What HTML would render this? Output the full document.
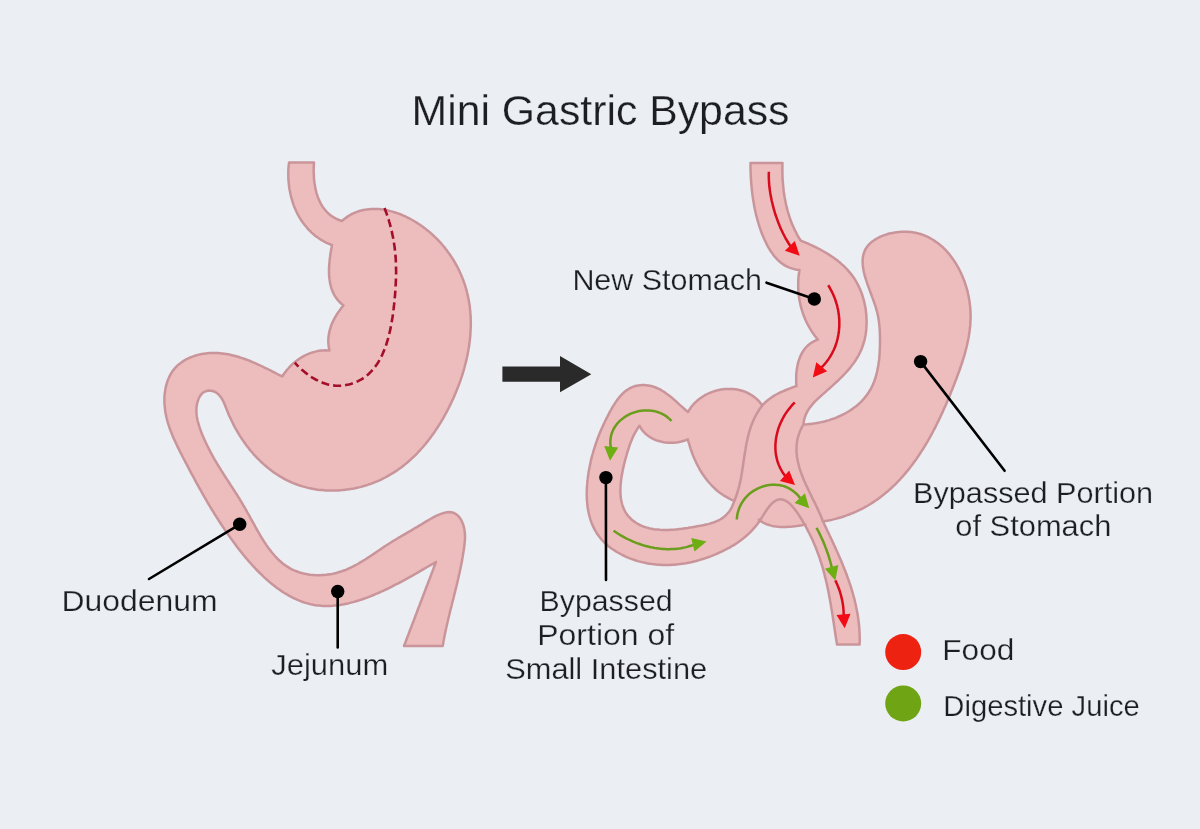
<!DOCTYPE html>
<html><head><meta charset="utf-8"><title>Mini Gastric Bypass</title>
<style>html,body{margin:0;padding:0;background:#EBEEF3;} svg{display:block;will-change:transform;}</style>
</head><body>
<svg width="1200" height="829" viewBox="0 0 1200 829">
<rect width="1200" height="829" fill="#EBEEF3"/>
<path d="M289,162.5 L314,162.5 L313.9,164.4 L313.8,166.4 L313.7,168.4 L313.7,170.4 L313.7,172.4 L313.8,174.4 L313.9,176.4 L314,178.5 L314.2,180.5 L314.4,182.6 L314.7,184.6 L315.1,186.6 L315.4,188.6 L315.9,190.6 L316.4,192.5 L317,194.5 L317.6,196.4 L318.3,198.2 L319.1,200.1 L319.9,201.9 L320.8,203.6 L321.8,205.3 L322.8,206.9 L324,208.5 L325.2,210 L326.5,211.5 L327.8,212.9 L329.3,214.2 L330.8,215.4 L332.5,216.6 L334.2,217.6 L336,218.6 L337.9,219.5 L339.9,220.3 L342,221 L343.6,219.6 L345.3,218.3 L346.9,217.1 L348.7,215.9 L350.4,214.9 L352.1,213.9 L353.9,213.1 L355.7,212.3 L357.6,211.6 L359.4,211 L361.3,210.5 L363.2,210 L365.1,209.7 L367,209.4 L368.9,209.2 L370.8,209 L372.8,208.9 L374.7,208.9 L376.7,209 L378.6,209.1 L380.6,209.3 L382.6,209.5 L384.5,209.8 L386.5,210.2 L388.5,210.6 L390.4,211.1 L392.4,211.6 L394.3,212.2 L396.3,212.8 L398.2,213.5 L400.1,214.2 L402,215 L403.9,215.8 L405.8,216.7 L407.6,217.6 L409.5,218.5 L411.3,219.5 L413.1,220.5 L414.8,221.5 L416.6,222.6 L418.3,223.7 L420,224.8 L421.7,226 L423.4,227.2 L425,228.4 L426.6,229.7 L428.2,230.9 L429.8,232.3 L431.3,233.6 L432.8,235 L434.3,236.4 L435.8,237.8 L437.2,239.2 L438.6,240.7 L440,242.2 L441.4,243.7 L442.7,245.3 L444,246.8 L445.3,248.4 L446.5,250 L447.7,251.6 L448.9,253.3 L450.1,254.9 L451.2,256.6 L452.3,258.3 L453.4,260 L454.4,261.7 L455.4,263.5 L456.4,265.2 L457.4,267 L458.3,268.8 L459.2,270.6 L460,272.4 L460.8,274.2 L461.6,276 L462.3,277.8 L463.1,279.7 L463.7,281.5 L464.4,283.4 L465,285.2 L465.6,287.1 L466.1,289 L466.7,290.8 L467.1,292.7 L467.6,294.6 L468,296.5 L468.4,298.4 L468.8,300.4 L469.1,302.3 L469.4,304.2 L469.7,306.1 L469.9,308.1 L470.1,310 L470.3,311.9 L470.4,313.9 L470.6,315.8 L470.7,317.8 L470.7,319.7 L470.8,321.7 L470.8,323.7 L470.8,325.6 L470.7,327.6 L470.6,329.6 L470.5,331.5 L470.4,333.5 L470.3,335.5 L470.1,337.4 L469.9,339.4 L469.7,341.4 L469.4,343.4 L469.2,345.3 L468.9,347.3 L468.5,349.3 L468.2,351.3 L467.8,353.2 L467.4,355.2 L467,357.2 L466.6,359.1 L466.1,361.1 L465.6,363.1 L465.1,365 L464.6,367 L464.1,368.9 L463.5,370.9 L462.9,372.8 L462.3,374.8 L461.7,376.7 L461,378.6 L460.4,380.6 L459.7,382.5 L459,384.4 L458.3,386.3 L457.5,388.2 L456.8,390.1 L456,392 L455.2,393.9 L454.4,395.8 L453.6,397.7 L452.7,399.6 L451.9,401.4 L451,403.3 L450.1,405.1 L449.2,407 L448.3,408.8 L447.3,410.6 L446.4,412.4 L445.4,414.2 L444.4,416 L443.4,417.8 L442.4,419.6 L441.3,421.3 L440.3,423.1 L439.2,424.8 L438.1,426.5 L437,428.2 L435.9,429.9 L434.8,431.6 L433.6,433.3 L432.4,434.9 L431.2,436.5 L430,438.2 L428.8,439.8 L427.6,441.4 L426.3,442.9 L425.1,444.5 L423.8,446 L422.5,447.5 L421.1,449 L419.8,450.5 L418.4,451.9 L417.1,453.4 L415.7,454.8 L414.3,456.2 L412.8,457.5 L411.4,458.9 L409.9,460.2 L408.5,461.5 L407,462.8 L405.4,464.1 L403.9,465.3 L402.4,466.5 L400.8,467.7 L399.2,468.8 L397.6,470 L396,471.1 L394.3,472.1 L392.7,473.2 L391,474.2 L389.3,475.2 L387.6,476.2 L385.9,477.1 L384.1,478 L382.4,478.9 L380.6,479.8 L378.8,480.6 L377,481.4 L375.1,482.1 L373.3,482.9 L371.4,483.6 L369.5,484.2 L367.6,484.9 L365.7,485.5 L363.8,486 L361.9,486.6 L359.9,487.1 L358,487.5 L356,488 L354,488.4 L352,488.7 L350.1,489.1 L348.1,489.4 L346.1,489.6 L344.1,489.9 L342.1,490.1 L340,490.2 L338,490.4 L336,490.5 L334,490.5 L332,490.5 L330,490.5 L328,490.5 L326,490.4 L324,490.3 L322,490.1 L320,489.9 L318,489.7 L316,489.4 L314.1,489.1 L312.1,488.7 L310.2,488.3 L308.2,487.9 L306.3,487.4 L304.4,486.9 L302.5,486.4 L300.6,485.8 L298.7,485.2 L296.9,484.5 L295,483.8 L293.2,483.1 L291.4,482.3 L289.6,481.5 L287.8,480.7 L286.1,479.8 L284.3,478.9 L282.6,477.9 L280.9,476.9 L279.2,475.9 L277.5,474.8 L275.9,473.7 L274.2,472.6 L272.6,471.5 L271,470.3 L269.4,469.1 L267.9,467.8 L266.3,466.5 L264.8,465.2 L263.3,463.9 L261.8,462.5 L260.3,461.1 L258.9,459.7 L257.5,458.3 L256.1,456.8 L254.7,455.3 L253.3,453.8 L252,452.3 L250.6,450.7 L249.3,449.1 L248.1,447.5 L246.8,445.9 L245.6,444.2 L244.4,442.5 L243.2,440.8 L242,439.1 L240.9,437.4 L239.7,435.6 L238.7,433.8 L237.6,432 L236.5,430.2 L235.5,428.4 L234.5,426.6 L233.5,424.7 L232.6,422.8 L231.7,420.9 L230.8,419 L229.9,417.1 L229,415.2 L228.2,413.2 L227.4,411.3 L226.6,409.3 L225.9,407.4 L225.1,405.5 L224.3,403.6 L223.5,401.8 L222.6,400 L221.6,398.4 L220.6,396.9 L219.5,395.5 L218.3,394.2 L217,393.1 L215.6,392.2 L214,391.5 L212.5,391 L210.8,390.7 L209.2,390.6 L207.5,390.8 L206,391.2 L204.4,391.8 L203,392.7 L201.7,393.9 L200.5,395.4 L199.5,397 L198.6,398.8 L197.9,400.8 L197.3,402.7 L196.9,404.7 L196.6,406.7 L196.4,408.7 L196.4,410.8 L196.5,412.8 L196.6,414.9 L196.9,416.9 L197.3,419 L197.7,421.1 L198.3,423.1 L198.9,425.2 L199.5,427.2 L200.2,429.2 L201,431.3 L201.7,433.3 L202.5,435.2 L203.4,437.2 L204.2,439.1 L205.1,441 L205.9,442.8 L206.8,444.7 L207.7,446.5 L208.6,448.3 L209.5,450.1 L210.4,451.9 L211.4,453.6 L212.3,455.3 L213.3,457.1 L214.2,458.8 L215.2,460.5 L216.2,462.1 L217.2,463.8 L218.2,465.5 L219.2,467.1 L220.2,468.7 L221.2,470.4 L222.3,472 L223.3,473.6 L224.3,475.3 L225.4,476.9 L226.4,478.5 L227.5,480.1 L228.5,481.7 L229.6,483.3 L230.6,485 L231.7,486.6 L232.7,488.2 L233.8,489.9 L234.8,491.5 L235.9,493.2 L237,494.8 L238,496.5 L239.1,498.2 L240.1,499.9 L241.2,501.6 L242.2,503.3 L243.2,505.1 L244.3,506.9 L245.3,508.6 L246.3,510.4 L247.3,512.3 L248.4,514.1 L249.4,515.9 L250.4,517.8 L251.4,519.6 L252.4,521.5 L253.5,523.4 L254.5,525.2 L255.5,527.1 L256.6,529 L257.6,530.8 L258.7,532.7 L259.7,534.5 L260.8,536.3 L261.9,538.1 L263,539.9 L264.1,541.7 L265.3,543.4 L266.4,545.1 L267.6,546.8 L268.8,548.5 L270.1,550.1 L271.3,551.7 L272.6,553.3 L273.9,554.8 L275.2,556.3 L276.5,557.7 L277.9,559.1 L279.3,560.5 L280.8,561.8 L282.2,563 L283.8,564.2 L285.3,565.3 L286.9,566.4 L288.5,567.4 L290.1,568.4 L291.8,569.3 L293.6,570.1 L295.3,570.8 L297.1,571.5 L298.9,572.2 L300.8,572.8 L302.7,573.3 L304.5,573.7 L306.5,574.1 L308.4,574.4 L310.3,574.7 L312.3,574.9 L314.3,575.1 L316.3,575.2 L318.2,575.2 L320.2,575.2 L322.2,575.1 L324.2,575 L326.2,574.8 L328.2,574.5 L330.2,574.2 L332.2,573.9 L334.2,573.4 L336.2,573 L338.1,572.4 L340,571.8 L342,571.2 L343.9,570.5 L345.8,569.8 L347.6,569 L349.5,568.2 L351.3,567.3 L353.2,566.4 L355,565.4 L356.8,564.5 L358.6,563.5 L360.3,562.4 L362.1,561.4 L363.8,560.3 L365.6,559.2 L367.3,558.1 L369,557 L370.7,555.9 L372.4,554.7 L374.1,553.6 L375.8,552.5 L377.5,551.3 L379.1,550.2 L380.8,549.1 L382.4,548 L384,546.9 L385.7,545.8 L387.3,544.7 L388.9,543.7 L390.5,542.7 L392.1,541.7 L393.8,540.7 L395.4,539.7 L397,538.7 L398.6,537.7 L400.3,536.8 L401.9,535.8 L403.6,534.8 L405.3,533.8 L407,532.8 L408.7,531.8 L410.5,530.8 L412.2,529.8 L414,528.7 L415.9,527.7 L417.7,526.6 L419.6,525.4 L421.6,524.3 L423.5,523.1 L425.5,521.9 L427.6,520.7 L429.6,519.5 L431.6,518.3 L433.7,517.2 L435.7,516.2 L437.8,515.2 L439.8,514.4 L441.7,513.6 L443.7,513 L445.5,512.6 L447.4,512.3 L449.2,512.1 L450.9,512.2 L452.5,512.5 L454,513 L455.5,513.8 L456.8,514.7 L458.1,515.9 L459.3,517.2 L460.3,518.6 L461.3,520.2 L462.1,521.9 L462.9,523.8 L463.5,525.6 L464,527.6 L464.4,529.6 L464.7,531.6 L464.9,533.7 L465,535.8 L465,537.9 L464.9,540 L464.7,542.1 L464.5,544.2 L464.3,546.3 L464,548.4 L463.7,550.5 L463.3,552.6 L463,554.6 L462.7,556.7 L462.3,558.7 L462,560.7 L461.6,562.7 L461.2,564.7 L460.8,566.7 L460.4,568.7 L460,570.6 L459.6,572.6 L459.1,574.5 L458.7,576.4 L458.3,578.3 L457.8,580.3 L457.4,582.2 L456.9,584.1 L456.5,586 L456,587.9 L455.5,589.8 L455.1,591.6 L454.6,593.5 L454.1,595.4 L453.7,597.3 L453.2,599.2 L452.7,601.1 L452.2,602.9 L451.8,604.8 L451.3,606.7 L450.8,608.6 L450.3,610.5 L449.9,612.4 L449.4,614.3 L448.9,616.2 L448.5,618.1 L448,620 L447.6,622 L447.1,623.9 L446.7,625.9 L446.3,627.8 L445.8,629.8 L445.4,631.8 L445,633.8 L444.6,635.8 L444.2,637.8 L443.8,639.8 L443.4,641.9 L443.1,643.9 L442.7,646 L404,646 L404.7,644.1 L405.5,642.2 L406.2,640.3 L406.9,638.4 L407.6,636.5 L408.4,634.5 L409.1,632.6 L409.8,630.7 L410.5,628.8 L411.3,626.9 L412,625 L412.7,623.1 L413.5,621.2 L414.2,619.3 L414.9,617.4 L415.6,615.5 L416.4,613.5 L417.1,611.6 L417.8,609.7 L418.5,607.8 L419.3,605.9 L420,604 L420.7,602.1 L421.5,600.2 L422.2,598.3 L422.9,596.4 L423.6,594.5 L424.4,592.5 L425.1,590.6 L425.8,588.7 L426.5,586.8 L427.3,584.9 L428,583 L428.7,581.1 L429.5,579.2 L430.2,577.3 L430.9,575.4 L431.6,573.5 L432.4,571.5 L433.1,569.6 L433.8,567.7 L434.5,565.8 L435.3,563.9 L436,562 L434.5,562.9 L432.9,563.8 L431.3,564.7 L429.7,565.6 L428.1,566.5 L426.4,567.5 L424.8,568.4 L423.1,569.4 L421.4,570.4 L419.7,571.3 L418,572.3 L416.3,573.3 L414.5,574.3 L412.8,575.3 L411,576.3 L409.2,577.3 L407.4,578.3 L405.6,579.3 L403.8,580.3 L402,581.3 L400.1,582.3 L398.3,583.3 L396.4,584.2 L394.5,585.2 L392.7,586.2 L390.8,587.1 L388.9,588.1 L387,589 L385.1,589.9 L383.1,590.8 L381.2,591.7 L379.3,592.5 L377.4,593.4 L375.4,594.2 L373.5,595 L371.5,595.8 L369.6,596.6 L367.6,597.4 L365.7,598.1 L363.7,598.8 L361.8,599.5 L359.8,600.1 L357.9,600.7 L355.9,601.3 L354,601.9 L352,602.4 L350,602.9 L348.1,603.4 L346.1,603.8 L344.2,604.2 L342.2,604.5 L340.3,604.9 L338.4,605.2 L336.4,605.4 L334.5,605.6 L332.6,605.8 L330.7,605.9 L328.8,606 L326.8,606 L325,606 L323.1,605.9 L321.2,605.8 L319.3,605.6 L317.4,605.4 L315.6,605.2 L313.8,604.9 L311.9,604.5 L310.1,604.1 L308.3,603.6 L306.5,603.1 L304.7,602.6 L302.9,602 L301.1,601.3 L299.4,600.6 L297.6,599.9 L295.9,599.1 L294.1,598.3 L292.4,597.5 L290.7,596.6 L289,595.7 L287.3,594.7 L285.6,593.7 L284,592.7 L282.3,591.6 L280.7,590.5 L279,589.3 L277.4,588.2 L275.8,587 L274.2,585.7 L272.6,584.5 L271,583.2 L269.4,581.9 L267.9,580.5 L266.3,579.2 L264.8,577.8 L263.3,576.4 L261.8,574.9 L260.3,573.5 L258.8,572 L257.3,570.5 L255.8,569 L254.4,567.4 L252.9,565.9 L251.5,564.3 L250.1,562.7 L248.7,561.1 L247.3,559.5 L245.9,557.9 L244.6,556.2 L243.2,554.6 L241.9,552.9 L240.5,551.2 L239.2,549.6 L237.9,547.9 L236.6,546.2 L235.4,544.5 L234.1,542.8 L232.8,541.1 L231.6,539.4 L230.4,537.7 L229.2,536 L228,534.2 L226.8,532.5 L225.6,530.8 L224.4,529.1 L223.3,527.4 L222.2,525.7 L221,524 L219.9,522.3 L218.8,520.7 L217.8,519 L216.7,517.3 L215.6,515.6 L214.6,514 L213.6,512.3 L212.5,510.6 L211.5,509 L210.5,507.3 L209.5,505.7 L208.5,504 L207.5,502.3 L206.6,500.7 L205.6,499 L204.6,497.4 L203.7,495.7 L202.7,494 L201.8,492.4 L200.9,490.7 L199.9,489 L199,487.4 L198.1,485.7 L197.1,484 L196.2,482.3 L195.3,480.6 L194.4,478.9 L193.5,477.2 L192.6,475.5 L191.6,473.8 L190.7,472.1 L189.8,470.4 L188.9,468.6 L188,466.9 L187.1,465.1 L186.1,463.4 L185.2,461.6 L184.3,459.8 L183.3,458 L182.4,456.2 L181.5,454.4 L180.5,452.6 L179.6,450.8 L178.7,448.9 L177.8,447.1 L176.9,445.2 L176,443.3 L175.1,441.4 L174.3,439.6 L173.4,437.7 L172.6,435.8 L171.8,433.8 L171.1,431.9 L170.3,430 L169.6,428 L169,426.1 L168.3,424.1 L167.7,422.2 L167.2,420.2 L166.7,418.2 L166.2,416.2 L165.8,414.2 L165.4,412.2 L165.1,410.2 L164.9,408.2 L164.7,406.1 L164.5,404.1 L164.4,402.1 L164.4,400 L164.4,398 L164.5,395.9 L164.7,393.9 L165,391.9 L165.3,389.9 L165.6,387.9 L166.1,385.9 L166.6,384 L167.2,382.1 L167.8,380.2 L168.6,378.4 L169.4,376.6 L170.3,374.9 L171.2,373.2 L172.3,371.6 L173.4,370.1 L174.6,368.6 L175.9,367.2 L177.2,365.8 L178.6,364.6 L180.1,363.4 L181.7,362.2 L183.3,361.1 L184.9,360.1 L186.6,359.2 L188.4,358.3 L190.2,357.5 L192,356.8 L193.9,356.1 L195.8,355.5 L197.7,354.9 L199.7,354.4 L201.7,354 L203.7,353.7 L205.7,353.4 L207.7,353.2 L209.8,353 L211.8,352.9 L213.8,352.9 L215.9,352.9 L217.9,353 L220,353.2 L222,353.4 L224,353.7 L226.1,354 L228.1,354.3 L230.1,354.7 L232.1,355.2 L234.2,355.7 L236.2,356.3 L238.2,356.8 L240.2,357.5 L242.1,358.1 L244.1,358.8 L246.1,359.5 L248,360.2 L250,361 L251.9,361.8 L253.8,362.6 L255.7,363.4 L257.6,364.3 L259.5,365.1 L261.3,366 L263.2,366.9 L265,367.8 L266.8,368.6 L268.6,369.5 L270.4,370.4 L272.1,371.3 L273.8,372.2 L275.6,373.1 L277.3,374 L278.9,374.8 L280.6,375.7 L282.2,376.5 L283.3,374.8 L284.4,373.2 L285.7,371.6 L286.9,370 L288.3,368.5 L289.6,367 L291.1,365.5 L292.5,364.1 L294.1,362.8 L295.6,361.5 L297.3,360.2 L298.9,359.1 L300.6,357.9 L302.4,356.9 L304.1,355.9 L305.9,355 L307.8,354.1 L309.7,353.4 L311.6,352.7 L313.5,352.1 L315.4,351.6 L317.4,351.1 L319.4,350.8 L321.4,350.5 L323.4,350.4 L325.4,350.3 L327.5,350.4 L329.5,350.5 L329,348.4 L328.7,346.4 L328.5,344.3 L328.3,342.3 L328.3,340.3 L328.4,338.2 L328.6,336.2 L328.9,334.2 L329.3,332.2 L329.7,330.3 L330.3,328.3 L330.9,326.4 L331.6,324.5 L332.4,322.6 L333.3,320.8 L334.2,318.9 L335.2,317.1 L336.2,315.4 L337.3,313.6 L338.5,311.9 L339.7,310.3 L340.9,308.6 L342.2,307 L343.5,305.5 L341.8,304.1 L340.2,302.7 L338.8,301.2 L337.4,299.6 L336.2,298 L335.1,296.3 L334.1,294.6 L333.2,292.8 L332.4,291 L331.7,289.1 L331.1,287.3 L330.6,285.3 L330.1,283.4 L329.8,281.4 L329.5,279.4 L329.3,277.3 L329.1,275.3 L329,273.2 L329,271.1 L329,269.1 L329.1,267 L329.2,264.9 L329.4,262.8 L329.6,260.8 L329.8,258.7 L330.1,256.7 L330.3,254.7 L330.6,252.7 L331,250.7 L331.3,248.8 L331.7,246.9 L332,245 L330.5,244.5 L328.6,243.7 L326.6,242.8 L324.8,241.9 L323,240.9 L321.2,239.9 L319.5,238.8 L317.8,237.6 L316.2,236.4 L314.6,235.2 L313.1,233.9 L311.6,232.6 L310.2,231.2 L308.8,229.8 L307.4,228.3 L306.2,226.8 L304.9,225.3 L303.7,223.7 L302.5,222.1 L301.4,220.5 L300.4,218.8 L299.3,217.1 L298.4,215.4 L297.4,213.6 L296.5,211.8 L295.7,210 L294.9,208.2 L294.1,206.3 L293.4,204.4 L292.8,202.5 L292.2,200.6 L291.6,198.7 L291.1,196.7 L290.6,194.7 L290.2,192.8 L289.8,190.8 L289.4,188.8 L289.1,186.8 L288.9,184.8 L288.7,182.7 L288.5,180.7 L288.4,178.7 L288.3,176.6 L288.3,174.6 L288.3,172.6 L288.3,170.6 L288.4,168.5 L288.6,166.5 L288.8,164.5 L289,162.5 Z" fill="#EDBCBD" stroke="#C9959A" stroke-width="2.5" stroke-linejoin="round"/>
<path d="M750.5,163 L782.5,163 L782.4,165 L782.4,167 L782.4,169 L782.4,171 L782.4,173 L782.5,175.1 L782.5,177.1 L782.6,179.1 L782.8,181.1 L782.9,183.1 L783.1,185.2 L783.3,187.2 L783.5,189.2 L783.7,191.2 L784,193.2 L784.3,195.2 L784.6,197.2 L785,199.2 L785.4,201.2 L785.8,203.2 L786.2,205.1 L786.7,207.1 L787.2,209.1 L787.7,211 L788.3,213 L788.9,214.9 L789.5,216.8 L790.1,218.7 L790.8,220.6 L791.5,222.5 L792.3,224.4 L793.1,226.2 L793.9,228.1 L794.7,229.9 L795.6,231.7 L796.6,233.5 L797.5,235.3 L798.5,237 L799.5,238.8 L800.6,240.5 L802.5,241.3 L804.4,242.1 L806.3,242.9 L808.2,243.7 L810.1,244.6 L812,245.4 L813.8,246.3 L815.6,247.2 L817.5,248.1 L819.3,249 L821.1,250 L822.8,251 L824.6,252 L826.3,253 L828,254 L829.7,255.1 L831.4,256.2 L833,257.3 L834.6,258.5 L836.2,259.6 L837.8,260.8 L839.3,262.1 L840.8,263.3 L842.2,264.6 L843.7,265.9 L845.1,267.3 L846.4,268.7 L847.8,270.1 L849,271.6 L850.3,273.1 L851.5,274.6 L852.7,276.2 L853.8,277.8 L854.9,279.4 L855.9,281.1 L856.9,282.8 L857.8,284.6 L858.7,286.4 L859.6,288.2 L860.4,290.1 L861.2,292 L861.9,293.9 L862.5,295.9 L863.1,297.9 L863.7,299.9 L864.2,301.9 L864.7,304 L865.1,306 L865.5,308.1 L865.8,310.2 L866,312.3 L866.3,314.4 L866.4,316.5 L866.5,318.6 L866.6,320.7 L866.6,322.8 L866.5,324.9 L866.4,327 L866.3,329 L866.1,331.1 L865.8,333.2 L865.5,335.2 L865.1,337.2 L864.7,339.2 L864.2,341.2 L863.6,343.1 L863,345 L862.4,346.9 L861.7,348.7 L860.9,350.5 L860.1,352.3 L859.2,354.1 L858.3,355.8 L857.3,357.5 L856.3,359.1 L855.3,360.8 L854.2,362.4 L853,364 L851.8,365.5 L850.6,367.1 L849.4,368.6 L848.1,370.1 L846.8,371.6 L845.5,373 L844.1,374.5 L842.7,375.9 L841.3,377.3 L839.9,378.7 L838.5,380.1 L837,381.5 L835.5,382.9 L834.1,384.2 L832.6,385.6 L831.1,386.9 L829.6,388.3 L828.1,389.6 L826.6,390.9 L825.1,392.3 L823.6,393.6 L822.1,394.9 L820.6,396.3 L819.1,397.6 L817.7,398.9 L816.2,400.3 L814.8,401.7 L813.5,403.1 L812.2,404.6 L811,406.1 L809.8,407.6 L808.7,409.2 L807.7,410.9 L806.8,412.6 L805.9,414.3 L805.2,416.2 L804.6,418.1 L804,420.2 L803.7,422.3 L803.4,424.5 L805.4,424.4 L807.4,424.3 L809.4,424.1 L811.4,423.9 L813.4,423.6 L815.4,423.3 L817.4,422.9 L819.4,422.6 L821.4,422.1 L823.4,421.7 L825.3,421.2 L827.3,420.6 L829.2,420.1 L831.2,419.4 L833.1,418.8 L835,418.1 L836.9,417.3 L838.7,416.5 L840.6,415.7 L842.4,414.8 L844.2,413.9 L845.9,413 L847.6,412 L849.3,411 L851,409.9 L852.6,408.8 L854.2,407.6 L855.8,406.4 L857.3,405.2 L858.8,403.9 L860.2,402.6 L861.6,401.2 L862.9,399.8 L864.2,398.4 L865.4,396.9 L866.6,395.4 L867.7,393.8 L868.8,392.2 L869.8,390.5 L870.8,388.8 L871.7,387.1 L872.6,385.3 L873.3,383.5 L874.1,381.7 L874.8,379.8 L875.4,377.9 L876,376 L876.5,374 L877,372 L877.4,370 L877.8,368 L878.2,366 L878.5,364 L878.8,361.9 L879.1,359.9 L879.3,357.8 L879.5,355.7 L879.6,353.7 L879.7,351.6 L879.8,349.5 L879.9,347.5 L880,345.4 L880,343.4 L880,341.4 L880,339.4 L880,337.4 L879.9,335.4 L879.9,333.5 L879.8,331.6 L879.7,329.7 L879.6,327.8 L879.4,325.9 L879.2,324 L879,322.1 L878.7,320.2 L878.4,318.3 L878.1,316.4 L877.7,314.5 L877.2,312.5 L876.7,310.6 L876.2,308.6 L875.6,306.7 L874.9,304.7 L874.2,302.6 L873.5,300.6 L872.8,298.6 L872,296.6 L871.3,294.5 L870.5,292.5 L869.7,290.4 L869,288.4 L868.2,286.3 L867.5,284.3 L866.8,282.2 L866.1,280.2 L865.5,278.2 L864.9,276.2 L864.4,274.2 L863.9,272.2 L863.5,270.2 L863.2,268.3 L862.9,266.3 L862.7,264.4 L862.6,262.5 L862.6,260.7 L862.7,258.8 L862.9,257 L863.3,255.3 L863.7,253.5 L864.3,251.9 L865,250.2 L865.8,248.7 L866.8,247.2 L867.9,245.7 L869.1,244.4 L870.4,243.1 L871.9,241.8 L873.4,240.7 L875.1,239.6 L876.8,238.5 L878.6,237.6 L880.5,236.7 L882.4,235.9 L884.4,235.1 L886.4,234.5 L888.5,233.8 L890.6,233.3 L892.7,232.9 L894.9,232.5 L897,232.2 L899.1,231.9 L901.3,231.8 L903.4,231.7 L905.5,231.7 L907.5,231.8 L909.6,231.9 L911.6,232.1 L913.5,232.4 L915.5,232.8 L917.4,233.2 L919.3,233.7 L921.2,234.3 L923,234.9 L924.8,235.6 L926.5,236.4 L928.3,237.2 L930,238.1 L931.6,239 L933.3,240 L934.9,241.1 L936.5,242.2 L938,243.3 L939.5,244.5 L941,245.7 L942.5,247 L943.9,248.4 L945.2,249.7 L946.6,251.2 L947.9,252.6 L949.2,254.1 L950.4,255.7 L951.6,257.3 L952.8,258.9 L953.9,260.5 L955,262.2 L956.1,263.9 L957.1,265.6 L958.1,267.4 L959.1,269.2 L960,271 L960.9,272.8 L961.7,274.7 L962.6,276.6 L963.3,278.5 L964.1,280.4 L964.8,282.3 L965.4,284.3 L966,286.2 L966.6,288.2 L967.2,290.1 L967.7,292.1 L968.1,294.1 L968.6,296.1 L968.9,298.1 L969.3,300.1 L969.6,302.1 L969.8,304.1 L970.1,306.1 L970.2,308.1 L970.4,310.1 L970.5,312.1 L970.5,314.1 L970.6,316 L970.6,318 L970.5,320 L970.4,322 L970.3,323.9 L970.2,325.9 L970,327.8 L969.7,329.8 L969.5,331.7 L969.2,333.7 L968.9,335.6 L968.6,337.5 L968.2,339.5 L967.8,341.4 L967.4,343.3 L967,345.3 L966.5,347.2 L966,349.1 L965.5,351 L965,353 L964.5,354.9 L963.9,356.8 L963.3,358.7 L962.7,360.6 L962.1,362.5 L961.5,364.4 L960.8,366.4 L960.2,368.3 L959.5,370.2 L958.8,372.1 L958.1,374 L957.4,375.9 L956.7,377.8 L956,379.7 L955.2,381.6 L954.5,383.5 L953.8,385.4 L953,387.3 L952.3,389.2 L951.5,391.1 L950.7,393 L950,394.9 L949.2,396.8 L948.4,398.7 L947.6,400.6 L946.8,402.5 L946,404.4 L945.2,406.2 L944.3,408.1 L943.5,410 L942.7,411.9 L941.8,413.7 L940.9,415.6 L940.1,417.4 L939.2,419.3 L938.3,421.1 L937.4,422.9 L936.5,424.8 L935.6,426.6 L934.7,428.4 L933.7,430.2 L932.8,432 L931.8,433.8 L930.8,435.6 L929.9,437.3 L928.9,439.1 L927.9,440.9 L926.9,442.6 L925.8,444.3 L924.8,446 L923.7,447.8 L922.7,449.5 L921.6,451.1 L920.5,452.8 L919.4,454.5 L918.3,456.1 L917.2,457.8 L916.1,459.4 L914.9,461 L913.8,462.6 L912.6,464.2 L911.4,465.8 L910.2,467.3 L909,468.9 L907.8,470.4 L906.5,471.9 L905.3,473.4 L904,474.9 L902.7,476.4 L901.4,477.8 L900.1,479.3 L898.8,480.7 L897.4,482.1 L896.1,483.5 L894.7,484.8 L893.3,486.2 L891.9,487.5 L890.5,488.8 L889,490.1 L887.6,491.4 L886.1,492.6 L884.6,493.8 L883.1,495.1 L881.6,496.2 L880,497.4 L878.5,498.6 L876.9,499.7 L875.3,500.8 L873.7,501.9 L872.1,502.9 L870.4,504 L868.8,505 L867.1,506 L865.4,506.9 L863.7,507.9 L861.9,508.8 L860.2,509.7 L858.4,510.5 L856.6,511.4 L854.8,512.2 L853,513 L851.1,513.7 L849.2,514.5 L847.3,515.2 L845.4,515.9 L843.5,516.5 L841.5,517.2 L839.6,517.7 L837.6,518.3 L835.6,518.9 L833.5,519.4 L831.5,519.9 L829.4,520.3 L827.3,520.7 L825.1,521.1 L823,521.5 L823.9,523.3 L824.7,525.1 L825.6,526.9 L826.5,528.8 L827.3,530.6 L828.2,532.4 L829.1,534.2 L829.9,536.1 L830.8,537.9 L831.7,539.7 L832.5,541.6 L833.4,543.4 L834.2,545.3 L835.1,547.1 L835.9,549 L836.7,550.8 L837.6,552.7 L838.4,554.5 L839.2,556.4 L840,558.3 L840.8,560.1 L841.6,562 L842.4,563.9 L843.1,565.8 L843.9,567.7 L844.6,569.6 L845.4,571.4 L846.1,573.3 L846.8,575.2 L847.5,577.2 L848.2,579.1 L848.9,581 L849.5,582.9 L850.2,584.8 L850.8,586.7 L851.4,588.7 L852,590.6 L852.6,592.5 L853.1,594.5 L853.6,596.4 L854.2,598.4 L854.7,600.3 L855.1,602.3 L855.6,604.2 L856,606.2 L856.4,608.2 L856.8,610.2 L857.2,612.1 L857.5,614.1 L857.9,616.1 L858.2,618.1 L858.4,620.1 L858.7,622.1 L858.9,624.1 L859.1,626.1 L859.3,628.2 L859.4,630.2 L859.5,632.2 L859.6,634.3 L859.7,636.3 L859.7,638.3 L859.7,640.4 L859.7,642.4 L859.6,644.5 L837,644.5 L836.7,642.4 L836.4,640.4 L836,638.4 L835.7,636.3 L835.4,634.3 L835.1,632.3 L834.8,630.3 L834.5,628.3 L834.2,626.3 L833.9,624.3 L833.6,622.3 L833.3,620.3 L833,618.3 L832.7,616.3 L832.4,614.4 L832.1,612.4 L831.8,610.5 L831.4,608.5 L831.1,606.6 L830.8,604.6 L830.5,602.7 L830.1,600.7 L829.8,598.8 L829.4,596.9 L829,594.9 L828.7,593 L828.3,591.1 L827.9,589.2 L827.5,587.3 L827.1,585.4 L826.7,583.5 L826.2,581.5 L825.8,579.6 L825.3,577.8 L824.8,575.9 L824.4,574 L823.9,572.1 L823.3,570.2 L822.8,568.3 L822.3,566.4 L821.7,564.5 L821.1,562.6 L820.5,560.8 L819.9,558.9 L819.3,557 L818.6,555.1 L817.9,553.3 L817.2,551.4 L816.5,549.5 L815.8,547.6 L815,545.8 L814.2,543.9 L813.4,542 L812.6,540.1 L811.7,538.3 L810.8,536.4 L809.9,534.5 L809,532.7 L808,530.8 L807,528.9 L806,527 L805,525.2 L803.9,523.3 L802.8,521.4 L801.7,519.5 L800.5,517.6 L799.3,515.8 L798.1,513.9 L796.9,512.1 L795.6,510.4 L794.3,508.7 L793,507.2 L791.7,505.7 L790.4,504.3 L789,503.1 L787.6,502 L786.2,501.1 L784.8,500.4 L783.4,499.8 L782,499.5 L780.6,499.3 L779.2,499.4 L777.8,499.7 L776.4,500.3 L775,501 L773.6,502 L772.3,503.1 L771,504.4 L769.7,505.8 L768.5,507.4 L767.3,509 L766.1,510.8 L764.9,512.6 L763.8,514.4 L762.6,516.3 L761.4,518.2 L760.2,520 L759,521.8 L757.8,523.5 L756.5,525.2 L755.2,526.8 L753.8,528.3 L752.4,529.9 L751.1,531.3 L749.6,532.8 L748.2,534.1 L746.7,535.5 L745.2,536.8 L743.7,538 L742.2,539.2 L740.6,540.4 L739,541.6 L737.4,542.7 L735.8,543.8 L734.1,544.8 L732.4,545.8 L730.8,546.8 L729.1,547.8 L727.3,548.7 L725.6,549.6 L723.8,550.5 L722.1,551.3 L720.3,552.2 L718.5,553 L716.7,553.8 L714.9,554.6 L713,555.3 L711.2,556.1 L709.3,556.8 L707.4,557.5 L705.5,558.1 L703.7,558.7 L701.7,559.3 L699.8,559.9 L697.9,560.5 L696,561 L694,561.5 L692.1,562 L690.1,562.4 L688.1,562.8 L686.2,563.2 L684.2,563.5 L682.2,563.8 L680.2,564.1 L678.2,564.3 L676.2,564.5 L674.2,564.7 L672.2,564.8 L670.2,564.9 L668.2,565 L666.1,565 L664.1,565 L662.1,564.9 L660.1,564.8 L658,564.7 L656,564.5 L654,564.3 L652,564.1 L649.9,563.8 L647.9,563.4 L645.9,563 L643.9,562.6 L641.8,562.1 L639.8,561.6 L637.8,561.1 L635.8,560.5 L633.8,559.8 L631.9,559.1 L629.9,558.4 L628,557.6 L626.1,556.8 L624.2,555.9 L622.3,555 L620.5,554 L618.7,553 L616.9,552 L615.2,550.9 L613.5,549.8 L611.8,548.7 L610.2,547.5 L608.6,546.2 L607.1,545 L605.6,543.6 L604.2,542.3 L602.8,540.9 L601.5,539.5 L600.3,538 L599.1,536.5 L598,534.9 L596.9,533.4 L595.9,531.7 L594.9,530.1 L594.1,528.4 L593.2,526.7 L592.5,525 L591.7,523.2 L591.1,521.4 L590.4,519.6 L589.9,517.7 L589.4,515.9 L588.9,514 L588.5,512.1 L588.1,510.1 L587.8,508.2 L587.5,506.2 L587.3,504.2 L587.1,502.2 L586.9,500.2 L586.8,498.2 L586.8,496.2 L586.7,494.1 L586.8,492.1 L586.8,490 L586.9,488 L587,485.9 L587.2,483.9 L587.3,481.8 L587.6,479.7 L587.8,477.7 L588.1,475.6 L588.4,473.6 L588.7,471.5 L589.1,469.5 L589.5,467.4 L589.9,465.4 L590.3,463.4 L590.7,461.4 L591.2,459.4 L591.7,457.4 L592.2,455.5 L592.8,453.5 L593.3,451.6 L593.9,449.7 L594.5,447.8 L595.1,445.9 L595.7,444 L596.3,442.2 L597,440.4 L597.6,438.5 L598.3,436.7 L599,434.9 L599.8,433.1 L600.5,431.3 L601.3,429.5 L602.1,427.7 L602.9,425.9 L603.7,424.1 L604.6,422.3 L605.4,420.5 L606.3,418.7 L607.3,416.9 L608.2,415.1 L609.2,413.2 L610.1,411.4 L611.2,409.6 L612.2,407.7 L613.3,405.9 L614.4,404.2 L615.5,402.4 L616.7,400.7 L617.9,399.1 L619.2,397.5 L620.5,395.9 L621.8,394.5 L623.2,393.1 L624.7,391.8 L626.2,390.6 L627.8,389.5 L629.4,388.5 L631.1,387.7 L632.8,386.9 L634.6,386.3 L636.5,385.8 L638.3,385.5 L640.2,385.2 L642.2,385.1 L644.1,385.1 L646.1,385.2 L648,385.4 L650,385.7 L651.9,386.2 L653.9,386.8 L655.8,387.5 L657.6,388.3 L659.5,389.2 L661.3,390.2 L663.1,391.3 L664.9,392.4 L666.6,393.7 L668.3,394.9 L670,396.3 L671.7,397.6 L673.3,399 L674.9,400.4 L676.5,401.8 L678,403.2 L679.5,404.6 L681,405.9 L682.5,407.2 L683.9,408.5 L685.3,409.7 L686.7,410.9 L688,412 L689.1,410.2 L690.2,408.5 L691.4,406.8 L692.7,405.2 L694.1,403.6 L695.6,402.2 L697.1,400.8 L698.7,399.5 L700.3,398.2 L702,397.1 L703.7,396 L705.5,394.9 L707.3,394 L709.2,393.1 L711.1,392.3 L713,391.6 L715,391 L716.9,390.4 L718.9,390 L720.9,389.6 L723,389.3 L725,389.1 L727,388.9 L729.1,388.9 L731.1,388.9 L733.1,389 L735.1,389.3 L737.1,389.6 L739.1,390 L741,390.5 L742.9,391 L744.8,391.7 L746.7,392.5 L748.5,393.3 L750.2,394.3 L751.9,395.3 L753.6,396.5 L755.2,397.8 L756.8,399.1 L758.3,400.5 L759.7,402.1 L761,403.7 L762.3,405.5 L763.7,403.9 L765.2,402.4 L766.8,401 L768.4,399.7 L770.1,398.4 L771.8,397.2 L773.5,396.1 L775.3,395 L777.2,394 L779,393.1 L780.9,392.2 L782.8,391.3 L784.8,390.5 L786.7,389.7 L788.7,388.9 L790.6,388.2 L792.6,387.4 L794.5,386.7 L796.5,386 L796.3,384 L796.2,382 L796.2,380 L796.2,378 L796.2,375.9 L796.3,373.8 L796.5,371.8 L796.8,369.7 L797.1,367.6 L797.5,365.6 L797.9,363.6 L798.4,361.6 L799.1,359.6 L799.8,357.7 L800.5,355.9 L801.4,354 L802.4,352.3 L803.5,350.6 L804.6,349 L805.9,347.5 L807.3,346 L808.8,344.7 L810.3,343.5 L812.1,342.3 L813.9,341.3 L815.8,340.4 L817.9,339.6 L816.6,338.1 L815.4,336.5 L814.2,334.9 L813,333.2 L811.9,331.6 L810.8,329.9 L809.8,328.2 L808.8,326.4 L807.8,324.6 L806.9,322.9 L806,321 L805.2,319.2 L804.5,317.4 L803.7,315.5 L803,313.6 L802.4,311.7 L801.8,309.8 L801.2,307.8 L800.7,305.9 L800.3,303.9 L799.8,302 L799.5,300 L799.1,298 L798.9,296 L798.6,294 L798.4,292 L798.3,290 L798.2,288 L798.2,286 L798.2,284 L798.2,282 L798.3,280 L798.4,278 L798.6,276 L798.9,274 L799.2,272 L799.5,270 L797.4,269.8 L795.3,269.4 L793.3,268.9 L791.4,268.4 L789.5,267.7 L787.7,266.9 L786,266.1 L784.4,265.1 L782.8,264.1 L781.2,262.9 L779.8,261.8 L778.3,260.5 L777,259.1 L775.7,257.7 L774.4,256.3 L773.2,254.7 L772.1,253.1 L770.9,251.5 L769.9,249.8 L768.8,248.1 L767.8,246.4 L766.9,244.6 L766,242.7 L765.1,240.9 L764.2,239 L763.4,237.1 L762.6,235.2 L761.8,233.3 L761.1,231.3 L760.4,229.3 L759.7,227.4 L759.1,225.4 L758.4,223.3 L757.9,221.3 L757.3,219.3 L756.7,217.2 L756.2,215.2 L755.7,213.1 L755.3,211 L754.8,209 L754.4,206.9 L754,204.8 L753.7,202.7 L753.3,200.6 L753,198.6 L752.7,196.5 L752.4,194.4 L752.2,192.4 L751.9,190.3 L751.7,188.3 L751.5,186.2 L751.3,184.2 L751.2,182.2 L751,180.2 L750.9,178.2 L750.8,176.2 L750.7,174.3 L750.6,172.3 L750.6,170.4 L750.5,168.5 L750.5,166.7 L750.5,164.8 L750.5,163 Z M734.3,500.9 L733.5,503.2 L732.6,505.3 L731.7,507.3 L730.7,509.2 L729.6,510.9 L728.4,512.5 L727.2,513.9 L725.9,515.2 L724.5,516.5 L723.1,517.6 L721.6,518.6 L720.1,519.5 L718.5,520.4 L716.8,521.1 L715.1,521.8 L713.4,522.5 L711.6,523 L709.8,523.6 L707.9,524.1 L706,524.5 L704.1,525 L702.1,525.4 L700.1,525.8 L698.1,526.1 L696,526.5 L694,526.9 L691.9,527.3 L689.8,527.6 L687.7,528 L685.5,528.3 L683.4,528.6 L681.2,528.9 L679.1,529.1 L676.9,529.4 L674.8,529.6 L672.6,529.7 L670.5,529.8 L668.4,529.9 L666.2,530 L664.1,530 L662,529.9 L660,529.8 L657.9,529.6 L655.9,529.4 L653.8,529.2 L651.9,528.8 L649.9,528.4 L648,527.9 L646.1,527.4 L644.2,526.8 L642.4,526.1 L640.6,525.3 L638.9,524.5 L637.2,523.5 L635.6,522.5 L634,521.4 L632.5,520.3 L631.1,519 L629.8,517.7 L628.5,516.4 L627.3,514.9 L626.3,513.4 L625.3,511.9 L624.5,510.2 L623.7,508.6 L623,506.8 L622.4,505.1 L621.9,503.2 L621.5,501.4 L621.1,499.5 L620.8,497.6 L620.6,495.6 L620.5,493.6 L620.4,491.6 L620.4,489.5 L620.5,487.5 L620.6,485.4 L620.8,483.3 L621,481.2 L621.2,479.1 L621.5,476.9 L621.9,474.8 L622.3,472.7 L622.7,470.6 L623.1,468.5 L623.6,466.4 L624.1,464.3 L624.6,462.2 L625.1,460.1 L625.7,458.1 L626.3,456.1 L626.8,454.1 L627.4,452.2 L628,450.3 L628.6,448.4 L629.2,446.6 L629.8,444.7 L630.5,442.9 L631.2,441.1 L631.9,439.4 L632.6,437.6 L633.4,435.9 L634.3,434.2 L635.2,432.5 L636.2,430.8 L637.2,429.1 L638.3,427.4 L639.5,425.7 L640.5,427.5 L641.6,429.3 L642.8,430.9 L644.2,432.4 L645.6,433.8 L647.1,435.1 L648.7,436.3 L650.4,437.4 L652.2,438.4 L654,439.3 L655.9,440.1 L657.8,440.8 L659.8,441.3 L661.8,441.8 L663.8,442.2 L665.9,442.5 L667.9,442.7 L670,442.8 L672.1,442.8 L674.1,442.7 L676.2,442.5 L678.2,442.2 L680.2,441.8 L682.2,441.3 L684.1,440.7 L686,440.1 L687.8,439.3 L688.3,441.3 L688.9,443.2 L689.5,445.2 L690.1,447.2 L690.7,449.1 L691.4,451 L692.1,453 L692.8,454.9 L693.6,456.8 L694.4,458.7 L695.3,460.6 L696.1,462.5 L697,464.3 L698,466.2 L699,468 L700,469.8 L701,471.5 L702.1,473.3 L703.3,475 L704.4,476.6 L705.6,478.3 L706.9,479.9 L708.1,481.5 L709.5,483 L710.8,484.5 L712.2,486 L713.7,487.4 L715.1,488.8 L716.7,490.2 L718.2,491.5 L719.8,492.7 L721.5,493.9 L723.2,495.1 L724.9,496.2 L726.7,497.2 L728.5,498.2 L730.4,499.2 L732.3,500.1 L734.3,500.9 Z" fill="#EDBCBD" fill-rule="evenodd"/>
<path d="M761,521 L761.4,518.7 L762,516.5 L762.7,514.3 L763.6,512.3 L764.6,510.4 L765.7,508.5 L766.9,506.8 L768.2,505.3 L769.6,503.9 L771.1,502.6 L772.6,501.5 L774.2,500.6 L775.9,499.9 L777.5,499.3 L779.2,499 L780.9,498.9 L782.6,499 L784.3,499.4 L786,500 L787.6,500.9 L789.2,502 L790.8,503.2 L792.3,504.7 L793.8,506.3 L795.2,508 L796.5,509.9 L797.7,511.8 L798.9,513.7 L800,515.7 L801,517.7 L801.9,519.6 L802.7,521.5 L803.4,523.3 L804,525 L802.1,525.2 L800.1,525.4 L798.2,525.6 L796.2,525.8 L794.2,526 L792.2,526.2 L790.1,526.4 L788.1,526.5 L786.1,526.7 L784,526.7 L782,526.8 L780,526.7 L778,526.6 L776,526.4 L774,526.1 L772,525.8 L770.1,525.3 L768.2,524.7 L766.3,524 L764.5,523.1 L762.7,522.1 L761,521 Z" fill="#EDBCBD"/>
<g stroke="#C9959A" stroke-width="2.5" stroke-linejoin="round" fill="none">
<path d="M750.5,163 L782.5,163 L782.4,165 L782.4,167 L782.4,169 L782.4,171 L782.4,173 L782.5,175.1 L782.5,177.1 L782.6,179.1 L782.8,181.1 L782.9,183.1 L783.1,185.2 L783.3,187.2 L783.5,189.2 L783.7,191.2 L784,193.2 L784.3,195.2 L784.6,197.2 L785,199.2 L785.4,201.2 L785.8,203.2 L786.2,205.1 L786.7,207.1 L787.2,209.1 L787.7,211 L788.3,213 L788.9,214.9 L789.5,216.8 L790.1,218.7 L790.8,220.6 L791.5,222.5 L792.3,224.4 L793.1,226.2 L793.9,228.1 L794.7,229.9 L795.6,231.7 L796.6,233.5 L797.5,235.3 L798.5,237 L799.5,238.8 L800.6,240.5 L802.5,241.3 L804.4,242.1 L806.3,242.9 L808.2,243.7 L810.1,244.6 L812,245.4 L813.8,246.3 L815.6,247.2 L817.5,248.1 L819.3,249 L821.1,250 L822.8,251 L824.6,252 L826.3,253 L828,254 L829.7,255.1 L831.4,256.2 L833,257.3 L834.6,258.5 L836.2,259.6 L837.8,260.8 L839.3,262.1 L840.8,263.3 L842.2,264.6 L843.7,265.9 L845.1,267.3 L846.4,268.7 L847.8,270.1 L849,271.6 L850.3,273.1 L851.5,274.6 L852.7,276.2 L853.8,277.8 L854.9,279.4 L855.9,281.1 L856.9,282.8 L857.8,284.6 L858.7,286.4 L859.6,288.2 L860.4,290.1 L861.2,292 L861.9,293.9 L862.5,295.9 L863.1,297.9 L863.7,299.9 L864.2,301.9 L864.7,304 L865.1,306 L865.5,308.1 L865.8,310.2 L866,312.3 L866.3,314.4 L866.4,316.5 L866.5,318.6 L866.6,320.7 L866.6,322.8 L866.5,324.9 L866.4,327 L866.3,329 L866.1,331.1 L865.8,333.2 L865.5,335.2 L865.1,337.2 L864.7,339.2 L864.2,341.2 L863.6,343.1 L863,345 L862.4,346.9 L861.7,348.7 L860.9,350.5 L860.1,352.3 L859.2,354.1 L858.3,355.8 L857.3,357.5 L856.3,359.1 L855.3,360.8 L854.2,362.4 L853,364 L851.8,365.5 L850.6,367.1 L849.4,368.6 L848.1,370.1 L846.8,371.6 L845.5,373 L844.1,374.5 L842.7,375.9 L841.3,377.3 L839.9,378.7 L838.5,380.1 L837,381.5 L835.5,382.9 L834.1,384.2 L832.6,385.6 L831.1,386.9 L829.6,388.3 L828.1,389.6 L826.6,390.9 L825.1,392.3 L823.6,393.6 L822.1,394.9 L820.6,396.3 L819.1,397.6 L817.7,398.9 L816.2,400.3 L814.8,401.7 L813.5,403.1 L812.2,404.6 L811,406.1 L809.8,407.6 L808.7,409.2 L807.7,410.9 L806.8,412.6 L805.9,414.3 L805.2,416.2 L804.6,418.1 L804,420.2 L803.7,422.3 L803.4,424.5 L805.4,424.4 L807.4,424.3 L809.4,424.1 L811.4,423.9 L813.4,423.6 L815.4,423.3 L817.4,422.9 L819.4,422.6 L821.4,422.1 L823.4,421.7 L825.3,421.2 L827.3,420.6 L829.2,420.1 L831.2,419.4 L833.1,418.8 L835,418.1 L836.9,417.3 L838.7,416.5 L840.6,415.7 L842.4,414.8 L844.2,413.9 L845.9,413 L847.6,412 L849.3,411 L851,409.9 L852.6,408.8 L854.2,407.6 L855.8,406.4 L857.3,405.2 L858.8,403.9 L860.2,402.6 L861.6,401.2 L862.9,399.8 L864.2,398.4 L865.4,396.9 L866.6,395.4 L867.7,393.8 L868.8,392.2 L869.8,390.5 L870.8,388.8 L871.7,387.1 L872.6,385.3 L873.3,383.5 L874.1,381.7 L874.8,379.8 L875.4,377.9 L876,376 L876.5,374 L877,372 L877.4,370 L877.8,368 L878.2,366 L878.5,364 L878.8,361.9 L879.1,359.9 L879.3,357.8 L879.5,355.7 L879.6,353.7 L879.7,351.6 L879.8,349.5 L879.9,347.5 L880,345.4 L880,343.4 L880,341.4 L880,339.4 L880,337.4 L879.9,335.4 L879.9,333.5 L879.8,331.6 L879.7,329.7 L879.6,327.8 L879.4,325.9 L879.2,324 L879,322.1 L878.7,320.2 L878.4,318.3 L878.1,316.4 L877.7,314.5 L877.2,312.5 L876.7,310.6 L876.2,308.6 L875.6,306.7 L874.9,304.7 L874.2,302.6 L873.5,300.6 L872.8,298.6 L872,296.6 L871.3,294.5 L870.5,292.5 L869.7,290.4 L869,288.4 L868.2,286.3 L867.5,284.3 L866.8,282.2 L866.1,280.2 L865.5,278.2 L864.9,276.2 L864.4,274.2 L863.9,272.2 L863.5,270.2 L863.2,268.3 L862.9,266.3 L862.7,264.4 L862.6,262.5 L862.6,260.7 L862.7,258.8 L862.9,257 L863.3,255.3 L863.7,253.5 L864.3,251.9 L865,250.2 L865.8,248.7 L866.8,247.2 L867.9,245.7 L869.1,244.4 L870.4,243.1 L871.9,241.8 L873.4,240.7 L875.1,239.6 L876.8,238.5 L878.6,237.6 L880.5,236.7 L882.4,235.9 L884.4,235.1 L886.4,234.5 L888.5,233.8 L890.6,233.3 L892.7,232.9 L894.9,232.5 L897,232.2 L899.1,231.9 L901.3,231.8 L903.4,231.7 L905.5,231.7 L907.5,231.8 L909.6,231.9 L911.6,232.1 L913.5,232.4 L915.5,232.8 L917.4,233.2 L919.3,233.7 L921.2,234.3 L923,234.9 L924.8,235.6 L926.5,236.4 L928.3,237.2 L930,238.1 L931.6,239 L933.3,240 L934.9,241.1 L936.5,242.2 L938,243.3 L939.5,244.5 L941,245.7 L942.5,247 L943.9,248.4 L945.2,249.7 L946.6,251.2 L947.9,252.6 L949.2,254.1 L950.4,255.7 L951.6,257.3 L952.8,258.9 L953.9,260.5 L955,262.2 L956.1,263.9 L957.1,265.6 L958.1,267.4 L959.1,269.2 L960,271 L960.9,272.8 L961.7,274.7 L962.6,276.6 L963.3,278.5 L964.1,280.4 L964.8,282.3 L965.4,284.3 L966,286.2 L966.6,288.2 L967.2,290.1 L967.7,292.1 L968.1,294.1 L968.6,296.1 L968.9,298.1 L969.3,300.1 L969.6,302.1 L969.8,304.1 L970.1,306.1 L970.2,308.1 L970.4,310.1 L970.5,312.1 L970.5,314.1 L970.6,316 L970.6,318 L970.5,320 L970.4,322 L970.3,323.9 L970.2,325.9 L970,327.8 L969.7,329.8 L969.5,331.7 L969.2,333.7 L968.9,335.6 L968.6,337.5 L968.2,339.5 L967.8,341.4 L967.4,343.3 L967,345.3 L966.5,347.2 L966,349.1 L965.5,351 L965,353 L964.5,354.9 L963.9,356.8 L963.3,358.7 L962.7,360.6 L962.1,362.5 L961.5,364.4 L960.8,366.4 L960.2,368.3 L959.5,370.2 L958.8,372.1 L958.1,374 L957.4,375.9 L956.7,377.8 L956,379.7 L955.2,381.6 L954.5,383.5 L953.8,385.4 L953,387.3 L952.3,389.2 L951.5,391.1 L950.7,393 L950,394.9 L949.2,396.8 L948.4,398.7 L947.6,400.6 L946.8,402.5 L946,404.4 L945.2,406.2 L944.3,408.1 L943.5,410 L942.7,411.9 L941.8,413.7 L940.9,415.6 L940.1,417.4 L939.2,419.3 L938.3,421.1 L937.4,422.9 L936.5,424.8 L935.6,426.6 L934.7,428.4 L933.7,430.2 L932.8,432 L931.8,433.8 L930.8,435.6 L929.9,437.3 L928.9,439.1 L927.9,440.9 L926.9,442.6 L925.8,444.3 L924.8,446 L923.7,447.8 L922.7,449.5 L921.6,451.1 L920.5,452.8 L919.4,454.5 L918.3,456.1 L917.2,457.8 L916.1,459.4 L914.9,461 L913.8,462.6 L912.6,464.2 L911.4,465.8 L910.2,467.3 L909,468.9 L907.8,470.4 L906.5,471.9 L905.3,473.4 L904,474.9 L902.7,476.4 L901.4,477.8 L900.1,479.3 L898.8,480.7 L897.4,482.1 L896.1,483.5 L894.7,484.8 L893.3,486.2 L891.9,487.5 L890.5,488.8 L889,490.1 L887.6,491.4 L886.1,492.6 L884.6,493.8 L883.1,495.1 L881.6,496.2 L880,497.4 L878.5,498.6 L876.9,499.7 L875.3,500.8 L873.7,501.9 L872.1,502.9 L870.4,504 L868.8,505 L867.1,506 L865.4,506.9 L863.7,507.9 L861.9,508.8 L860.2,509.7 L858.4,510.5 L856.6,511.4 L854.8,512.2 L853,513 L851.1,513.7 L849.2,514.5 L847.3,515.2 L845.4,515.9 L843.5,516.5 L841.5,517.2 L839.6,517.7 L837.6,518.3 L835.6,518.9 L833.5,519.4 L831.5,519.9 L829.4,520.3 L827.3,520.7 L825.1,521.1 L823,521.5 L823.9,523.3 L824.7,525.1 L825.6,526.9 L826.5,528.8 L827.3,530.6 L828.2,532.4 L829.1,534.2 L829.9,536.1 L830.8,537.9 L831.7,539.7 L832.5,541.6 L833.4,543.4 L834.2,545.3 L835.1,547.1 L835.9,549 L836.7,550.8 L837.6,552.7 L838.4,554.5 L839.2,556.4 L840,558.3 L840.8,560.1 L841.6,562 L842.4,563.9 L843.1,565.8 L843.9,567.7 L844.6,569.6 L845.4,571.4 L846.1,573.3 L846.8,575.2 L847.5,577.2 L848.2,579.1 L848.9,581 L849.5,582.9 L850.2,584.8 L850.8,586.7 L851.4,588.7 L852,590.6 L852.6,592.5 L853.1,594.5 L853.6,596.4 L854.2,598.4 L854.7,600.3 L855.1,602.3 L855.6,604.2 L856,606.2 L856.4,608.2 L856.8,610.2 L857.2,612.1 L857.5,614.1 L857.9,616.1 L858.2,618.1 L858.4,620.1 L858.7,622.1 L858.9,624.1 L859.1,626.1 L859.3,628.2 L859.4,630.2 L859.5,632.2 L859.6,634.3 L859.7,636.3 L859.7,638.3 L859.7,640.4 L859.7,642.4 L859.6,644.5 L837,644.5 L836.7,642.4 L836.4,640.4 L836,638.4 L835.7,636.3 L835.4,634.3 L835.1,632.3 L834.8,630.3 L834.5,628.3 L834.2,626.3 L833.9,624.3 L833.6,622.3 L833.3,620.3 L833,618.3 L832.7,616.3 L832.4,614.4 L832.1,612.4 L831.8,610.5 L831.4,608.5 L831.1,606.6 L830.8,604.6 L830.5,602.7 L830.1,600.7 L829.8,598.8 L829.4,596.9 L829,594.9 L828.7,593 L828.3,591.1 L827.9,589.2 L827.5,587.3 L827.1,585.4 L826.7,583.5 L826.2,581.5 L825.8,579.6 L825.3,577.8 L824.8,575.9 L824.4,574 L823.9,572.1 L823.3,570.2 L822.8,568.3 L822.3,566.4 L821.7,564.5 L821.1,562.6 L820.5,560.8 L819.9,558.9 L819.3,557 L818.6,555.1 L817.9,553.3 L817.2,551.4 L816.5,549.5 L815.8,547.6 L815,545.8 L814.2,543.9 L813.4,542 L812.6,540.1 L811.7,538.3 L810.8,536.4 L809.9,534.5 L809,532.7 L808,530.8 L807,528.9 L806,527 L805,525.2 L803.9,523.3 L802.8,521.4 L801.7,519.5 L800.5,517.6 L799.3,515.8 L798.1,513.9 L796.9,512.1 L795.6,510.4 L794.3,508.7 L793,507.2 L791.7,505.7 L790.4,504.3 L789,503.1 L787.6,502 L786.2,501.1 L784.8,500.4 L783.4,499.8 L782,499.5 L780.6,499.3 L779.2,499.4 L777.8,499.7 L776.4,500.3 L775,501 L773.6,502 L772.3,503.1 L771,504.4 L769.7,505.8 L768.5,507.4 L767.3,509 L766.1,510.8 L764.9,512.6 L763.8,514.4 L762.6,516.3 L761.4,518.2 L760.2,520 L759,521.8 L757.8,523.5 L756.5,525.2 L755.2,526.8 L753.8,528.3 L752.4,529.9 L751.1,531.3 L749.6,532.8 L748.2,534.1 L746.7,535.5 L745.2,536.8 L743.7,538 L742.2,539.2 L740.6,540.4 L739,541.6 L737.4,542.7 L735.8,543.8 L734.1,544.8 L732.4,545.8 L730.8,546.8 L729.1,547.8 L727.3,548.7 L725.6,549.6 L723.8,550.5 L722.1,551.3 L720.3,552.2 L718.5,553 L716.7,553.8 L714.9,554.6 L713,555.3 L711.2,556.1 L709.3,556.8 L707.4,557.5 L705.5,558.1 L703.7,558.7 L701.7,559.3 L699.8,559.9 L697.9,560.5 L696,561 L694,561.5 L692.1,562 L690.1,562.4 L688.1,562.8 L686.2,563.2 L684.2,563.5 L682.2,563.8 L680.2,564.1 L678.2,564.3 L676.2,564.5 L674.2,564.7 L672.2,564.8 L670.2,564.9 L668.2,565 L666.1,565 L664.1,565 L662.1,564.9 L660.1,564.8 L658,564.7 L656,564.5 L654,564.3 L652,564.1 L649.9,563.8 L647.9,563.4 L645.9,563 L643.9,562.6 L641.8,562.1 L639.8,561.6 L637.8,561.1 L635.8,560.5 L633.8,559.8 L631.9,559.1 L629.9,558.4 L628,557.6 L626.1,556.8 L624.2,555.9 L622.3,555 L620.5,554 L618.7,553 L616.9,552 L615.2,550.9 L613.5,549.8 L611.8,548.7 L610.2,547.5 L608.6,546.2 L607.1,545 L605.6,543.6 L604.2,542.3 L602.8,540.9 L601.5,539.5 L600.3,538 L599.1,536.5 L598,534.9 L596.9,533.4 L595.9,531.7 L594.9,530.1 L594.1,528.4 L593.2,526.7 L592.5,525 L591.7,523.2 L591.1,521.4 L590.4,519.6 L589.9,517.7 L589.4,515.9 L588.9,514 L588.5,512.1 L588.1,510.1 L587.8,508.2 L587.5,506.2 L587.3,504.2 L587.1,502.2 L586.9,500.2 L586.8,498.2 L586.8,496.2 L586.7,494.1 L586.8,492.1 L586.8,490 L586.9,488 L587,485.9 L587.2,483.9 L587.3,481.8 L587.6,479.7 L587.8,477.7 L588.1,475.6 L588.4,473.6 L588.7,471.5 L589.1,469.5 L589.5,467.4 L589.9,465.4 L590.3,463.4 L590.7,461.4 L591.2,459.4 L591.7,457.4 L592.2,455.5 L592.8,453.5 L593.3,451.6 L593.9,449.7 L594.5,447.8 L595.1,445.9 L595.7,444 L596.3,442.2 L597,440.4 L597.6,438.5 L598.3,436.7 L599,434.9 L599.8,433.1 L600.5,431.3 L601.3,429.5 L602.1,427.7 L602.9,425.9 L603.7,424.1 L604.6,422.3 L605.4,420.5 L606.3,418.7 L607.3,416.9 L608.2,415.1 L609.2,413.2 L610.1,411.4 L611.2,409.6 L612.2,407.7 L613.3,405.9 L614.4,404.2 L615.5,402.4 L616.7,400.7 L617.9,399.1 L619.2,397.5 L620.5,395.9 L621.8,394.5 L623.2,393.1 L624.7,391.8 L626.2,390.6 L627.8,389.5 L629.4,388.5 L631.1,387.7 L632.8,386.9 L634.6,386.3 L636.5,385.8 L638.3,385.5 L640.2,385.2 L642.2,385.1 L644.1,385.1 L646.1,385.2 L648,385.4 L650,385.7 L651.9,386.2 L653.9,386.8 L655.8,387.5 L657.6,388.3 L659.5,389.2 L661.3,390.2 L663.1,391.3 L664.9,392.4 L666.6,393.7 L668.3,394.9 L670,396.3 L671.7,397.6 L673.3,399 L674.9,400.4 L676.5,401.8 L678,403.2 L679.5,404.6 L681,405.9 L682.5,407.2 L683.9,408.5 L685.3,409.7 L686.7,410.9 L688,412 L689.1,410.2 L690.2,408.5 L691.4,406.8 L692.7,405.2 L694.1,403.6 L695.6,402.2 L697.1,400.8 L698.7,399.5 L700.3,398.2 L702,397.1 L703.7,396 L705.5,394.9 L707.3,394 L709.2,393.1 L711.1,392.3 L713,391.6 L715,391 L716.9,390.4 L718.9,390 L720.9,389.6 L723,389.3 L725,389.1 L727,388.9 L729.1,388.9 L731.1,388.9 L733.1,389 L735.1,389.3 L737.1,389.6 L739.1,390 L741,390.5 L742.9,391 L744.8,391.7 L746.7,392.5 L748.5,393.3 L750.2,394.3 L751.9,395.3 L753.6,396.5 L755.2,397.8 L756.8,399.1 L758.3,400.5 L759.7,402.1 L761,403.7 L762.3,405.5 L763.7,403.9 L765.2,402.4 L766.8,401 L768.4,399.7 L770.1,398.4 L771.8,397.2 L773.5,396.1 L775.3,395 L777.2,394 L779,393.1 L780.9,392.2 L782.8,391.3 L784.8,390.5 L786.7,389.7 L788.7,388.9 L790.6,388.2 L792.6,387.4 L794.5,386.7 L796.5,386 L796.3,384 L796.2,382 L796.2,380 L796.2,378 L796.2,375.9 L796.3,373.8 L796.5,371.8 L796.8,369.7 L797.1,367.6 L797.5,365.6 L797.9,363.6 L798.4,361.6 L799.1,359.6 L799.8,357.7 L800.5,355.9 L801.4,354 L802.4,352.3 L803.5,350.6 L804.6,349 L805.9,347.5 L807.3,346 L808.8,344.7 L810.3,343.5 L812.1,342.3 L813.9,341.3 L815.8,340.4 L817.9,339.6 L816.6,338.1 L815.4,336.5 L814.2,334.9 L813,333.2 L811.9,331.6 L810.8,329.9 L809.8,328.2 L808.8,326.4 L807.8,324.6 L806.9,322.9 L806,321 L805.2,319.2 L804.5,317.4 L803.7,315.5 L803,313.6 L802.4,311.7 L801.8,309.8 L801.2,307.8 L800.7,305.9 L800.3,303.9 L799.8,302 L799.5,300 L799.1,298 L798.9,296 L798.6,294 L798.4,292 L798.3,290 L798.2,288 L798.2,286 L798.2,284 L798.2,282 L798.3,280 L798.4,278 L798.6,276 L798.9,274 L799.2,272 L799.5,270 L797.4,269.8 L795.3,269.4 L793.3,268.9 L791.4,268.4 L789.5,267.7 L787.7,266.9 L786,266.1 L784.4,265.1 L782.8,264.1 L781.2,262.9 L779.8,261.8 L778.3,260.5 L777,259.1 L775.7,257.7 L774.4,256.3 L773.2,254.7 L772.1,253.1 L770.9,251.5 L769.9,249.8 L768.8,248.1 L767.8,246.4 L766.9,244.6 L766,242.7 L765.1,240.9 L764.2,239 L763.4,237.1 L762.6,235.2 L761.8,233.3 L761.1,231.3 L760.4,229.3 L759.7,227.4 L759.1,225.4 L758.4,223.3 L757.9,221.3 L757.3,219.3 L756.7,217.2 L756.2,215.2 L755.7,213.1 L755.3,211 L754.8,209 L754.4,206.9 L754,204.8 L753.7,202.7 L753.3,200.6 L753,198.6 L752.7,196.5 L752.4,194.4 L752.2,192.4 L751.9,190.3 L751.7,188.3 L751.5,186.2 L751.3,184.2 L751.2,182.2 L751,180.2 L750.9,178.2 L750.8,176.2 L750.7,174.3 L750.6,172.3 L750.6,170.4 L750.5,168.5 L750.5,166.7 L750.5,164.8 L750.5,163 Z M734.3,500.9 L733.5,503.2 L732.6,505.3 L731.7,507.3 L730.7,509.2 L729.6,510.9 L728.4,512.5 L727.2,513.9 L725.9,515.2 L724.5,516.5 L723.1,517.6 L721.6,518.6 L720.1,519.5 L718.5,520.4 L716.8,521.1 L715.1,521.8 L713.4,522.5 L711.6,523 L709.8,523.6 L707.9,524.1 L706,524.5 L704.1,525 L702.1,525.4 L700.1,525.8 L698.1,526.1 L696,526.5 L694,526.9 L691.9,527.3 L689.8,527.6 L687.7,528 L685.5,528.3 L683.4,528.6 L681.2,528.9 L679.1,529.1 L676.9,529.4 L674.8,529.6 L672.6,529.7 L670.5,529.8 L668.4,529.9 L666.2,530 L664.1,530 L662,529.9 L660,529.8 L657.9,529.6 L655.9,529.4 L653.8,529.2 L651.9,528.8 L649.9,528.4 L648,527.9 L646.1,527.4 L644.2,526.8 L642.4,526.1 L640.6,525.3 L638.9,524.5 L637.2,523.5 L635.6,522.5 L634,521.4 L632.5,520.3 L631.1,519 L629.8,517.7 L628.5,516.4 L627.3,514.9 L626.3,513.4 L625.3,511.9 L624.5,510.2 L623.7,508.6 L623,506.8 L622.4,505.1 L621.9,503.2 L621.5,501.4 L621.1,499.5 L620.8,497.6 L620.6,495.6 L620.5,493.6 L620.4,491.6 L620.4,489.5 L620.5,487.5 L620.6,485.4 L620.8,483.3 L621,481.2 L621.2,479.1 L621.5,476.9 L621.9,474.8 L622.3,472.7 L622.7,470.6 L623.1,468.5 L623.6,466.4 L624.1,464.3 L624.6,462.2 L625.1,460.1 L625.7,458.1 L626.3,456.1 L626.8,454.1 L627.4,452.2 L628,450.3 L628.6,448.4 L629.2,446.6 L629.8,444.7 L630.5,442.9 L631.2,441.1 L631.9,439.4 L632.6,437.6 L633.4,435.9 L634.3,434.2 L635.2,432.5 L636.2,430.8 L637.2,429.1 L638.3,427.4 L639.5,425.7 L640.5,427.5 L641.6,429.3 L642.8,430.9 L644.2,432.4 L645.6,433.8 L647.1,435.1 L648.7,436.3 L650.4,437.4 L652.2,438.4 L654,439.3 L655.9,440.1 L657.8,440.8 L659.8,441.3 L661.8,441.8 L663.8,442.2 L665.9,442.5 L667.9,442.7 L670,442.8 L672.1,442.8 L674.1,442.7 L676.2,442.5 L678.2,442.2 L680.2,441.8 L682.2,441.3 L684.1,440.7 L686,440.1 L687.8,439.3 L688.3,441.3 L688.9,443.2 L689.5,445.2 L690.1,447.2 L690.7,449.1 L691.4,451 L692.1,453 L692.8,454.9 L693.6,456.8 L694.4,458.7 L695.3,460.6 L696.1,462.5 L697,464.3 L698,466.2 L699,468 L700,469.8 L701,471.5 L702.1,473.3 L703.3,475 L704.4,476.6 L705.6,478.3 L706.9,479.9 L708.1,481.5 L709.5,483 L710.8,484.5 L712.2,486 L713.7,487.4 L715.1,488.8 L716.7,490.2 L718.2,491.5 L719.8,492.7 L721.5,493.9 L723.2,495.1 L724.9,496.2 L726.7,497.2 L728.5,498.2 L730.4,499.2 L732.3,500.1 L734.3,500.9 Z"/>
<path d="M762.3,405.5 L761,407.2 L759.8,408.8 L758.7,410.5 L757.6,412.3 L756.6,414 L755.6,415.8 L754.7,417.6 L753.8,419.4 L753,421.2 L752.3,423 L751.5,424.9 L750.9,426.7 L750.2,428.6 L749.7,430.5 L749.1,432.4 L748.6,434.3 L748.1,436.3 L747.6,438.2 L747.2,440.2 L746.8,442.1 L746.4,444.1 L746,446.1 L745.7,448 L745.4,450 L745,452 L744.7,454 L744.4,456 L744.1,458 L743.8,460 L743.5,462 L743.2,464 L742.9,466 L742.6,468 L742.3,470 L742,472 L741.7,474 L741.3,476 L741,478 L740.6,479.9 L740.2,481.9 L739.7,483.8 L739.3,485.8 L738.8,487.7 L738.2,489.6 L737.7,491.5 L737.1,493.4 L736.5,495.3 L735.8,497.2 L735.1,499.1 L734.3,500.9"/>
<path d="M803.4,424.5 L802.3,426.5 L801.3,428.4 L800.4,430.4 L799.6,432.3 L798.9,434.3 L798.2,436.3 L797.7,438.2 L797.3,440.2 L797,442.1 L796.7,444.1 L796.6,446 L796.5,448 L796.5,449.9 L796.5,451.9 L796.7,453.8 L796.9,455.8 L797.1,457.7 L797.5,459.7 L797.8,461.6 L798.3,463.5 L798.8,465.5 L799.3,467.4 L799.9,469.3 L800.5,471.2 L801.2,473.2 L801.9,475.1 L802.7,477 L803.4,478.9 L804.2,480.8 L805.1,482.7 L805.9,484.6 L806.8,486.5 L807.7,488.4 L808.6,490.3 L809.5,492.2 L810.4,494 L811.3,495.9 L812.2,497.8 L813.2,499.6 L814.1,501.5 L815,503.3 L815.9,505.2 L816.8,507 L817.6,508.9 L818.5,510.7 L819.3,512.5 L820.1,514.3 L820.9,516.1 L821.6,517.9 L822.3,519.7 L823,521.5"/>
<path d="M806.5,524.5 L804.6,524.8 L802.7,525.1 L800.8,525.4 L798.8,525.7 L796.8,526 L794.7,526.2 L792.7,526.5 L790.6,526.7 L788.5,526.8 L786.5,526.9 L784.4,527 L782.3,527 L780.3,526.9 L778.2,526.8 L776.2,526.6 L774.2,526.3 L772.2,525.9 L770.3,525.4 L768.4,524.8 L766.5,524.2 L764.7,523.4 L762.9,522.5 L761.2,521.4 L759.6,520.3 L758,519"/>
</g>
<path d="M384.5,208 L385.3,210 L386,212 L386.7,213.9 L387.4,215.9 L388,217.9 L388.7,219.8 L389.2,221.8 L389.8,223.7 L390.3,225.7 L390.9,227.6 L391.3,229.6 L391.8,231.5 L392.2,233.5 L392.6,235.4 L393,237.3 L393.4,239.3 L393.7,241.2 L394,243.1 L394.3,245.1 L394.6,247 L394.8,248.9 L395,250.9 L395.2,252.8 L395.4,254.7 L395.5,256.7 L395.7,258.6 L395.8,260.5 L395.9,262.5 L395.9,264.4 L396,266.4 L396,268.4 L396.1,270.3 L396.1,272.3 L396.1,274.3 L396,276.2 L396,278.2 L395.9,280.2 L395.8,282.2 L395.7,284.2 L395.6,286.2 L395.5,288.2 L395.4,290.3 L395.2,292.3 L395.1,294.3 L394.9,296.4 L394.7,298.5 L394.5,300.5 L394.3,302.6 L394.1,304.7 L393.8,306.8 L393.6,308.9 L393.3,311 L393.1,313.1 L392.8,315.2 L392.5,317.3 L392.1,319.5 L391.8,321.6 L391.4,323.7 L391,325.8 L390.6,327.9 L390.2,329.9 L389.7,332 L389.2,334.1 L388.7,336.1 L388.2,338.1 L387.6,340.1 L387,342.1 L386.4,344.1 L385.8,346 L385.1,347.9 L384.3,349.8 L383.6,351.6 L382.8,353.5 L382,355.3 L381.1,357 L380.2,358.7 L379.3,360.4 L378.3,362.1 L377.3,363.7 L376.2,365.3 L375.1,366.8 L373.9,368.3 L372.7,369.7 L371.5,371.1 L370.2,372.4 L368.9,373.7 L367.5,374.9 L366,376.1 L364.6,377.2 L363,378.3 L361.4,379.3 L359.8,380.2 L358.1,381.1 L356.3,381.9 L354.5,382.6 L352.7,383.3 L350.8,383.9 L348.9,384.4 L347,384.8 L345,385.2 L343,385.4 L341,385.6 L339,385.7 L337,385.7 L335,385.6 L333,385.4 L331,385.1 L329,384.7 L327.1,384.2 L325.1,383.6 L323.1,382.9 L321.2,382.2 L319.3,381.3 L317.4,380.4 L315.6,379.5 L313.7,378.4 L311.9,377.3 L310.2,376.2 L308.5,375 L306.8,373.7 L305.1,372.4 L303.5,371.1 L301.9,369.8 L300.4,368.4 L298.9,367 L297.5,365.6 L296.1,364.1 L294.8,362.7" fill="none" stroke="#A30E28" stroke-width="2.6" stroke-dasharray="8,4"/>
<path d="M768.9,171.7 L768.8,173.7 L768.8,175.6 L768.8,177.6 L768.9,179.6 L769,181.7 L769.1,183.7 L769.3,185.8 L769.5,187.8 L769.8,189.9 L770.1,191.9 L770.4,194 L770.8,196.1 L771.2,198.1 L771.6,200.2 L772.1,202.3 L772.6,204.3 L773.1,206.4 L773.6,208.4 L774.2,210.4 L774.8,212.5 L775.4,214.5 L776.1,216.4 L776.8,218.4 L777.5,220.4 L778.2,222.3 L779,224.2 L779.7,226 L780.5,227.9 L781.3,229.7 L782.2,231.5 L783,233.3 L783.9,235 L784.8,236.7 L785.6,238.3 L786.6,239.9 L787.5,241.5 L788.4,243 L789.4,244.5 L790.3,245.9 L791.3,247.3" fill="none" stroke="#D80A1C" stroke-width="2.5"/><path d="M799.7,255.8 L784.9,250.8 L794.8,240.9 Z" fill="#F20A14"/><path d="M828.2,285.3 L829.3,287 L830.3,288.8 L831.3,290.6 L832.2,292.5 L833.1,294.3 L833.9,296.2 L834.7,298.1 L835.4,300.1 L836,302 L836.6,304 L837.2,306 L837.6,308 L838.1,310 L838.4,312 L838.7,314.1 L839,316.1 L839.1,318.2 L839.3,320.2 L839.3,322.3 L839.3,324.3 L839.3,326.4 L839.1,328.4 L839,330.4 L838.7,332.5 L838.4,334.5 L838,336.5 L837.6,338.5 L837.1,340.5 L836.6,342.4 L835.9,344.3 L835.3,346.3 L834.5,348.2 L833.7,350 L832.8,351.8 L831.9,353.7 L830.9,355.4 L829.8,357.2 L828.7,358.9 L827.5,360.5 L826.2,362.2 L824.9,363.8 L823.5,365.3 L822,366.8 L820.5,368.3" fill="none" stroke="#D80A1C" stroke-width="2.5"/><path d="M812.8,377.5 L816.3,362.3 L827.1,371.2 Z" fill="#F20A14"/><path d="M794.8,402.5 L793.3,403.9 L791.9,405.4 L790.6,407 L789.3,408.6 L788,410.2 L786.8,411.9 L785.6,413.6 L784.5,415.4 L783.5,417.2 L782.5,419 L781.6,420.9 L780.7,422.7 L779.9,424.6 L779.1,426.6 L778.4,428.5 L777.8,430.5 L777.3,432.5 L776.8,434.5 L776.4,436.5 L776,438.5 L775.8,440.5 L775.6,442.5 L775.4,444.6 L775.4,446.6 L775.4,448.6 L775.5,450.6 L775.7,452.7 L776,454.7 L776.3,456.6 L776.8,458.6 L777.3,460.6 L777.9,462.5 L778.6,464.4 L779.4,466.3 L780.3,468.2 L781.2,470 L782.3,471.8 L783.4,473.6 L784.7,475.3 L786,477" fill="none" stroke="#D80A1C" stroke-width="2.5"/><path d="M795,485 L779.9,480.9 L789.2,470.5 Z" fill="#F20A14"/><path d="M835.3,580.4 L836.2,582.3 L837.1,584.2 L837.9,586.1 L838.6,588.1 L839.4,590 L840,592 L840.6,594 L841.1,595.9 L841.6,597.9 L842.1,599.9 L842.5,601.9 L842.8,604 L843.1,606 L843.3,608 L843.5,610.1 L843.6,612.2 L843.7,614.3 L843.7,616.3" fill="none" stroke="#D80A1C" stroke-width="2.5"/><path d="M844.7,628.3 L836.5,615 L850.5,613.8 Z" fill="#F20A14"/><path d="M671.5,420.9 L669.9,419.3 L668.3,417.9 L666.6,416.6 L664.9,415.4 L663.1,414.4 L661.2,413.4 L659.3,412.7 L657.4,412 L655.4,411.4 L653.5,411 L651.4,410.7 L649.4,410.5 L647.4,410.4 L645.4,410.4 L643.3,410.5 L641.3,410.8 L639.3,411.1 L637.3,411.5 L635.3,412.1 L633.4,412.7 L631.5,413.4 L629.7,414.2 L627.9,415.2 L626.1,416.1 L624.4,417.2 L622.8,418.4 L621.3,419.6 L619.8,420.9 L618.4,422.3 L617.1,423.8 L615.9,425.4 L614.8,427 L613.8,428.7 L612.9,430.4 L612.2,432.2 L611.5,434.1 L611,436 L610.7,438 L610.4,440.1 L610.3,442.2 L610.4,444.3 L610.6,446.5 L611,448.7" fill="none" stroke="#6A9E1C" stroke-width="2.5"/><path d="M610,460.7 L604.2,446.1 L618.2,447.4 Z" fill="#6DAE12"/><path d="M613.6,530.7 L615.2,531.8 L616.9,533 L618.6,534 L620.3,535.1 L622.1,536.1 L623.9,537.1 L625.7,538.1 L627.5,539 L629.4,539.9 L631.2,540.7 L633.1,541.6 L635,542.3 L636.9,543.1 L638.9,543.8 L640.8,544.5 L642.8,545.1 L644.7,545.7 L646.7,546.2 L648.7,546.7 L650.7,547.2 L652.7,547.6 L654.7,548 L656.8,548.3 L658.8,548.6 L660.8,548.8 L662.9,549 L664.9,549.1 L666.9,549.2 L669,549.2 L671,549.1 L673,549.1 L675.1,548.9 L677.1,548.7 L679.1,548.5 L681.1,548.2 L683.1,547.8 L685.1,547.4 L687.1,546.9 L689,546.3 L691,545.7 L692.9,545.1 L694.8,544.3" fill="none" stroke="#6A9E1C" stroke-width="2.5"/><path d="M706.5,541.5 L694.5,551.6 L691.2,538 Z" fill="#6DAE12"/><path d="M736.8,519.5 L737,517.2 L737.3,515 L737.7,512.9 L738.3,510.8 L739,508.8 L739.8,506.8 L740.7,504.9 L741.7,503.1 L742.8,501.4 L743.9,499.7 L745.2,498.1 L746.6,496.6 L748,495.2 L749.5,493.8 L751.1,492.6 L752.7,491.4 L754.4,490.3 L756.2,489.3 L758,488.4 L759.8,487.6 L761.7,486.9 L763.5,486.3 L765.5,485.7 L767.4,485.3 L769.4,485 L771.3,484.8 L773.3,484.7 L775.3,484.7 L777.2,484.9 L779.2,485.1 L781.1,485.5 L783,485.9 L784.9,486.5 L786.7,487.3 L788.6,488.1 L790.3,489.1 L792,490.2 L793.7,491.4 L795.3,492.8 L796.9,494.2 L798.4,495.9 L799.8,497.6 L801.1,499.5" fill="none" stroke="#6A9E1C" stroke-width="2.5"/><path d="M809.3,508.3 L794.6,502.9 L804.9,493.3 Z" fill="#6DAE12"/><path d="M816.5,527.8 L817.5,529.7 L818.5,531.5 L819.4,533.4 L820.3,535.3 L821.2,537.2 L822.1,539.1 L823,541 L823.8,543 L824.6,544.9 L825.3,546.9 L826.1,548.8 L826.8,550.8 L827.5,552.7 L828.2,554.7 L828.8,556.7 L829.4,558.7 L830,560.7 L830.6,562.7 L831.1,564.8 L831.6,566.8 L832.1,568.8" fill="none" stroke="#6A9E1C" stroke-width="2.5"/><path d="M835.3,580.4 L824.9,568.7 L838.4,565 Z" fill="#6DAE12"/>
<g stroke="#000" stroke-width="2.6" fill="#000" stroke-linecap="round">
<line x1="239.7" y1="524.3" x2="149" y2="579"/>
<circle cx="239.7" cy="524.3" r="6.7" stroke="none"/>
<line x1="337.7" y1="591.5" x2="337.7" y2="647.5"/>
<circle cx="337.7" cy="591.5" r="6.7" stroke="none"/>
<line x1="814.3" y1="299" x2="766.5" y2="282.7"/>
<circle cx="814.3" cy="299" r="6.7" stroke="none"/>
<line x1="605.9" y1="477.6" x2="606" y2="580"/>
<circle cx="605.9" cy="477.6" r="6.7" stroke="none"/>
<line x1="920.6" y1="361.6" x2="1004.6" y2="470.8"/>
<circle cx="920.6" cy="361.6" r="6.7" stroke="none"/>
</g>
<path d="M502.4,366.5 H560 V356 L591.3,374.2 L560,392.2 V381.7 H502.4 Z" fill="#2A2A2A"/>
<circle cx="903.2" cy="652.1" r="18" fill="#EE2211"/>
<circle cx="903.2" cy="703.4" r="18" fill="#6FA514"/>
<g font-family="Liberation Sans, sans-serif" fill="#1C1E22" stroke="#EBEEF3" stroke-width="0.25">
<text x="411.5" y="125" font-size="42.5" textLength="378" lengthAdjust="spacingAndGlyphs" text-anchor="start">Mini Gastric Bypass</text><text x="61.5" y="610.5" font-size="29.5" textLength="156" lengthAdjust="spacingAndGlyphs" text-anchor="start">Duodenum</text><text x="271.3" y="675" font-size="29.5" textLength="117" lengthAdjust="spacingAndGlyphs" text-anchor="start">Jejunum</text><text x="572.4" y="290" font-size="29.5" textLength="189.5" lengthAdjust="spacingAndGlyphs" text-anchor="start">New Stomach</text><text x="539.6" y="611" font-size="29.5" textLength="133" lengthAdjust="spacingAndGlyphs" text-anchor="start">Bypassed</text><text x="537.2" y="645" font-size="29.5" textLength="137" lengthAdjust="spacingAndGlyphs" text-anchor="start">Portion of</text><text x="505.2" y="679" font-size="29.5" textLength="202" lengthAdjust="spacingAndGlyphs" text-anchor="start">Small Intestine</text><text x="913.1" y="502.5" font-size="29.5" textLength="240" lengthAdjust="spacingAndGlyphs" text-anchor="start">Bypassed Portion</text><text x="955.3" y="536" font-size="29.5" textLength="156" lengthAdjust="spacingAndGlyphs" text-anchor="start">of Stomach</text><text x="942.3" y="660" font-size="29.5" textLength="72" lengthAdjust="spacingAndGlyphs" text-anchor="start">Food</text><text x="943.3" y="716" font-size="29.5" textLength="196.5" lengthAdjust="spacingAndGlyphs" text-anchor="start">Digestive Juice</text>
</g>
</svg>
</body></html>
